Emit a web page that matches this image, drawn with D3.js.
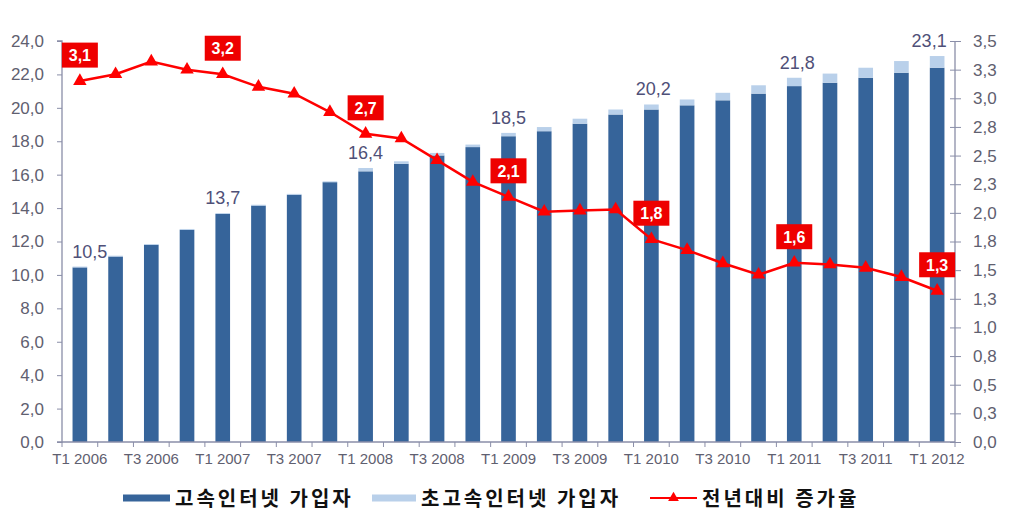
<!DOCTYPE html>
<html>
<head>
<meta charset="utf-8">
<script src="https://cdn.jsdelivr.net/npm/d3@7"></script>
<style>
  html, body { margin: 0; padding: 0; background: #fff; }
  svg { display: block; }
</style>
</head>
<body>
<svg id="chart" width="1024" height="526"></svg>
<script>
// ---------- DATA ----------
const categories = [
  "T1 2006","T2 2006","T3 2006","T4 2006",
  "T1 2007","T2 2007","T3 2007","T4 2007",
  "T1 2008","T2 2008","T3 2008","T4 2008",
  "T1 2009","T2 2009","T3 2009","T4 2009",
  "T1 2010","T2 2010","T3 2010","T4 2010",
  "T1 2011","T2 2011","T3 2011","T4 2011",
  "T1 2012"
];
const highSpeed = [10.45, 11.1, 11.8, 12.7, 13.65, 14.15, 14.8, 15.55, 16.2, 16.65, 17.15, 17.65,
  18.3, 18.6, 19.05, 19.6, 19.9, 20.15, 20.45, 20.85, 21.3, 21.5, 21.8, 22.1, 22.4];
const ultraSpeed = [0.05, 0.05, 0.05, 0.05, 0.05, 0.05, 0.05, 0.05, 0.2, 0.15, 0.15, 0.15,
  0.2, 0.25, 0.3, 0.3, 0.3, 0.35, 0.45, 0.5, 0.5, 0.55, 0.6, 0.7, 0.7];
const growth = [3.15, 3.21, 3.32, 3.25, 3.21, 3.10, 3.04, 2.88, 2.69, 2.65, 2.46, 2.27,
  2.14, 2.01, 2.02, 2.03, 1.77, 1.675, 1.56, 1.46, 1.565, 1.55, 1.52, 1.44, 1.32];
const totalLabelIdx = [0, 4, 8, 12, 16, 20, 24];
const totalLabels = ["10,5", "13,7", "16,4", "18,5", "20,2", "21,8", "23,1"];
const growthLabelIdx = [0, 4, 8, 12, 16, 20, 24];
const growthLabels = ["3,1", "3,2", "2,7", "2,1", "1,8", "1,6", "1,3"];
const leftTicks = [0, 2, 4, 6, 8, 10, 12, 14, 16, 18, 20, 22, 24];
const rightTicks = [0, 0.25, 0.5, 0.75, 1, 1.25, 1.5, 1.75, 2, 2.25, 2.5, 2.75, 3, 3.25, 3.5];
const xTickLabels = categories.filter((d, i) => i % 2 === 0);
const legendNames = ["고속인터넷 가입자", "초고속인터넷 가입자", "전년대비 증가율"];

// ---------- LAYOUT ----------
const X0 = 62, X1 = 955, Y0 = 442, Y1 = 41;
const C_DARK = "#36649a", C_LIGHT = "#b9d0ea", C_RED = "#ff0000",
      C_AXIS = "#8a8ea8", C_TICKTXT = "#5f6070", C_TOTAL = "#4f5078";
const svg = d3.select("#chart");

const x = d3.scaleBand().domain(categories).range([X0, X1])
  .paddingInner(0.59).paddingOuter(0.295);
const step = x.step();
const yL = d3.scaleLinear().domain([0, 24]).range([Y0, Y1]);
const yR = d3.scaleLinear().domain([0, 3.5]).range([Y0, Y1]);
const cx = d => x(d) + x.bandwidth() / 2;

// ---------- BARS ----------
const g = svg.append("g");
g.selectAll("rect.dark").data(categories).join("rect")
  .attr("class", "dark")
  .attr("x", d => x(d)).attr("width", x.bandwidth())
  .attr("y", (d, i) => yL(highSpeed[i]))
  .attr("height", (d, i) => yL(0) - yL(highSpeed[i]))
  .attr("fill", C_DARK);
g.selectAll("rect.light").data(categories).join("rect")
  .attr("class", "light")
  .attr("x", d => x(d)).attr("width", x.bandwidth())
  .attr("y", (d, i) => yL(highSpeed[i] + ultraSpeed[i]))
  .attr("height", (d, i) => yL(highSpeed[i]) - yL(highSpeed[i] + ultraSpeed[i]))
  .attr("fill", C_LIGHT);

// total labels
const totalDx = [10, 0, 0, 0, 2, 3, -8];
g.selectAll("text.total").data(totalLabelIdx).join("text")
  .attr("class", "total")
  .attr("x", (d, k) => cx(categories[d]) + totalDx[k])
  .attr("y", d => yL(highSpeed[d] + ultraSpeed[d]) - 9)
  .attr("text-anchor", "middle")
  .attr("font-family", "Liberation Sans, Arial, sans-serif")
  .attr("font-size", 18)
  .attr("fill", C_TOTAL)
  .text((d, k) => totalLabels[k]);

// ---------- AXES ----------
const axisFont = "Liberation Sans, Arial, sans-serif";
// left
const gl = svg.append("g").attr("transform", `translate(${X0},0)`)
  .call(d3.axisLeft(yL).tickValues(leftTicks).tickSize(5).tickPadding(13)
    .tickFormat(d => d3.format(".1f")(d).replace(".", ",")));
// right
const gr = svg.append("g").attr("transform", `translate(${X1},0)`)
  .call(d3.axisRight(yR).tickValues(rightTicks).tickSize(6).tickPadding(12)
    .tickFormat(d => d3.format(".1f")(d).replace(".", ",")));
gr.selectAll(".tick line").attr("x1", -5);
// bottom
const gb = svg.append("g").attr("transform", `translate(0,${Y0})`)
  .call(d3.axisBottom(x).tickValues(xTickLabels).tickSize(0).tickPadding(11));
gb.selectAll(".tick line").remove();
gb.append("g").selectAll("line").data(d3.range(categories.length + 1)).join("line")
  .attr("x1", i => X0 + i * step).attr("x2", i => X0 + i * step)
  .attr("y1", 0).attr("y2", 5)
  .attr("stroke", C_AXIS);

[gl, gr, gb].forEach(a => {
  a.select(".domain").attr("stroke", C_AXIS).attr("stroke-width", 1.3);
  a.selectAll(".tick line").attr("stroke", C_AXIS);
  a.selectAll("text").attr("font-family", axisFont).attr("fill", C_TICKTXT);
});
gl.selectAll("text").attr("font-size", 17);
gr.selectAll("text").attr("font-size", 17);
gb.selectAll("text").attr("font-size", 15);
gl.select(".domain").attr("d", `M-5,${Y1}H0V${Y0}H-5`);
gr.select(".domain").attr("d", `M0,${Y1}V${Y0}`);
gb.select(".domain").attr("d", `M${X0},0H${X1}`);

// ---------- LINE ----------
const line = d3.line().x((d, i) => cx(categories[i])).y(d => yR(d));
svg.append("path").datum(growth)
  .attr("d", line).attr("fill", "none")
  .attr("stroke", C_RED).attr("stroke-width", 2.5);
const tri = d3.symbol().type(d3.symbolTriangle).size(78);
svg.selectAll("path.marker").data(growth).join("path")
  .attr("class", "marker")
  .attr("d", tri)
  .attr("transform", (d, i) => `translate(${cx(categories[i])},${yR(d)})`)
  .attr("fill", C_RED);

// growth labels
const gLab = svg.selectAll("g.glab").data(growthLabelIdx).join("g")
  .attr("class", "glab")
  .attr("transform", d => `translate(${cx(categories[d])},${yR(growth[d]) - 26})`);
gLab.append("rect").attr("x", -18).attr("y", -12.5).attr("width", 36).attr("height", 25)
  .attr("fill", "#ee0000");
gLab.append("text").attr("text-anchor", "middle").attr("y", 6)
  .attr("font-family", "Liberation Sans, Arial, sans-serif")
  .attr("font-weight", "bold").attr("font-size", 16).attr("fill", "#fff")
  .text((d, k) => growthLabels[k]);

// ---------- LEGEND ----------
const lg = svg.append("g").attr("transform", "translate(0,498)");
const lfont = "'Noto Sans CJK KR', sans-serif";
lg.append("rect").attr("x", 123).attr("y", -3.5).attr("width", 47).attr("height", 7).attr("fill", C_DARK);
lg.append("rect").attr("x", 372).attr("y", -3.5).attr("width", 44).attr("height", 7).attr("fill", C_LIGHT);
lg.append("line").attr("x1", 650).attr("x2", 697).attr("y1", 0).attr("y2", 0)
  .attr("stroke", C_RED).attr("stroke-width", 2);
lg.append("path").attr("d", d3.symbol().type(d3.symbolTriangle).size(50))
  .attr("transform", "translate(673.5,0)").attr("fill", C_RED);
const legX = [175, 421, 702];
lg.selectAll("text").data(legendNames).join("text")
  .attr("x", (d, i) => legX[i]).attr("y", 7.5)
  .attr("font-family", lfont).attr("font-weight", "bold")
  .attr("font-size", 20).attr("letter-spacing", 3).attr("fill", "#111")
  .text(d => d);
</script>
</body>
</html>
